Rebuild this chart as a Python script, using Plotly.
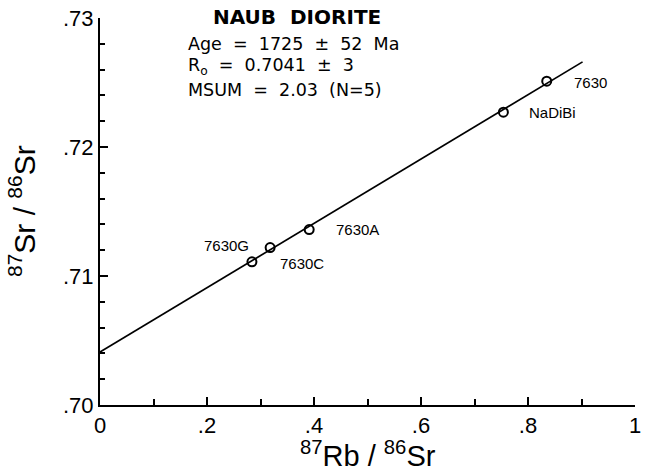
import plotly.graph_objects as go

# ---- data ----
sample_names = ["7630G", "7630C", "7630A", "NaDiBi", "7630"]
rb_sr = [0.284, 0.318, 0.391, 0.754, 0.835]
sr_sr = [0.7111, 0.7122, 0.7136, 0.7227, 0.7251]

isochron_x = [0.0, 0.902]
isochron_y = [0.7041, 0.7266]

x_tickvals = [0, 0.2, 0.4, 0.6, 0.8, 1.0]
x_ticktext = ["0", ".2", ".4", ".6", ".8", "1"]
y_tickvals = [0.70, 0.71, 0.72, 0.73]
y_ticktext = [".70", ".71", ".72", ".73"]

title_text = "NAUB  DIORITE"
info_lines = ["Age  =  1725  ±  52  Ma",
              "R<sub>o</sub>  =  0.7041  ±  3",
              "MSUM  =  2.03  (N=5)"]

# ---- label placement (style) ----
label_style = {
    "7630G": dict(xanchor="right", xshift=-1, yshift=16),
    "7630C": dict(xanchor="left", xshift=8, yshift=-16),
    "7630A": dict(xanchor="left", xshift=25, yshift=0),
    "NaDiBi": dict(xanchor="left", xshift=24, yshift=0),
    "7630": dict(xanchor="left", xshift=25, yshift=-1),
}

FONT = "Liberation Sans, Arial, sans-serif"
FONT2 = "DejaVu Sans, sans-serif"

fig = go.Figure()
fig.add_trace(go.Scatter(x=isochron_x, y=isochron_y, mode="lines",
                         line=dict(color="black", width=1.7),
                         hoverinfo="skip", showlegend=False))
fig.add_trace(go.Scatter(x=rb_sr, y=sr_sr, mode="markers",
                         marker=dict(symbol="circle-open", size=9,
                                     color="black", line=dict(width=2)),
                         text=sample_names, showlegend=False))

for name, xv, yv in zip(sample_names, rb_sr, sr_sr):
    st = label_style[name]
    fig.add_annotation(x=xv, y=yv, xref="x", yref="y", text=name,
                       showarrow=False, xanchor=st["xanchor"], yanchor="middle",
                       xshift=st["xshift"], yshift=st["yshift"],
                       font=dict(family=FONT, size=15, color="black"))

# chart title and statistics
fig.add_annotation(x=(297 - 100) / 535, y=(405 - 17) / 387, xref="paper", yref="paper",
                   text="<b>" + title_text + "</b>", showarrow=False,
                   xanchor="center", yanchor="middle",
                   font=dict(family=FONT2, size=20, color="black"))
for i, line in enumerate(info_lines):
    ypix = 44 + 23 * i
    fig.add_annotation(x=(186 - 100) / 535, y=(405 - ypix) / 387, xref="paper", yref="paper",
                       text=line, showarrow=False, xanchor="left", yanchor="middle",
                       font=dict(family=FONT2, size=17.5, color="black"))

# axis titles
fig.add_annotation(x=(368 - 100) / 535, y=(405 - 454) / 387, xref="paper", yref="paper",
                   text="<sup>87</sup>Rb / <sup>86</sup>Sr", showarrow=False,
                   xanchor="center", yanchor="middle",
                   font=dict(family=FONT, size=29, color="black"))
fig.add_annotation(x=(22 - 100) / 535, y=(405 - 211) / 387, xref="paper", yref="paper",
                   text="<sup>87</sup>Sr / <sup>86</sup>Sr", showarrow=False, textangle=-90,
                   xanchor="center", yanchor="middle",
                   font=dict(family=FONT, size=30, color="black"))

fig.update_layout(
    width=645, height=471, autosize=False,
    margin=dict(l=100, r=10, t=18, b=66, autoexpand=False),
    paper_bgcolor="white", plot_bgcolor="white",
    showlegend=False,
    xaxis=dict(range=[0, 1], tickmode="array", tickvals=x_tickvals, ticktext=x_ticktext,
               automargin=False,
               showgrid=False, zeroline=False, showline=True, linecolor="black", linewidth=2,
               ticks="inside", ticklen=8, tickwidth=1.5, tickcolor="black",
               tickfont=dict(family=FONT, size=22, color="black"),
               minor=dict(tickmode="linear", tick0=0, dtick=0.1, ticks="inside",
                          ticklen=6, tickwidth=1.5, tickcolor="black", showgrid=False)),
    yaxis=dict(range=[0.70, 0.73], tickmode="array", tickvals=y_tickvals, ticktext=y_ticktext,
               automargin=False,
               showgrid=False, zeroline=False, showline=True, linecolor="black", linewidth=2,
               ticks="inside", ticklen=8, tickwidth=1.5, tickcolor="black",
               tickfont=dict(family=FONT, size=22, color="black"),
               minor=dict(tickmode="linear", tick0=0.70, dtick=0.002, ticks="inside",
                          ticklen=5, tickwidth=1.5, tickcolor="black", showgrid=False)),
)

fig.write_html("out.html",
               config={"displayModeBar": False, "responsive": False},
               post_script="document.body.style.margin='0px';document.body.style.overflow='hidden';")
